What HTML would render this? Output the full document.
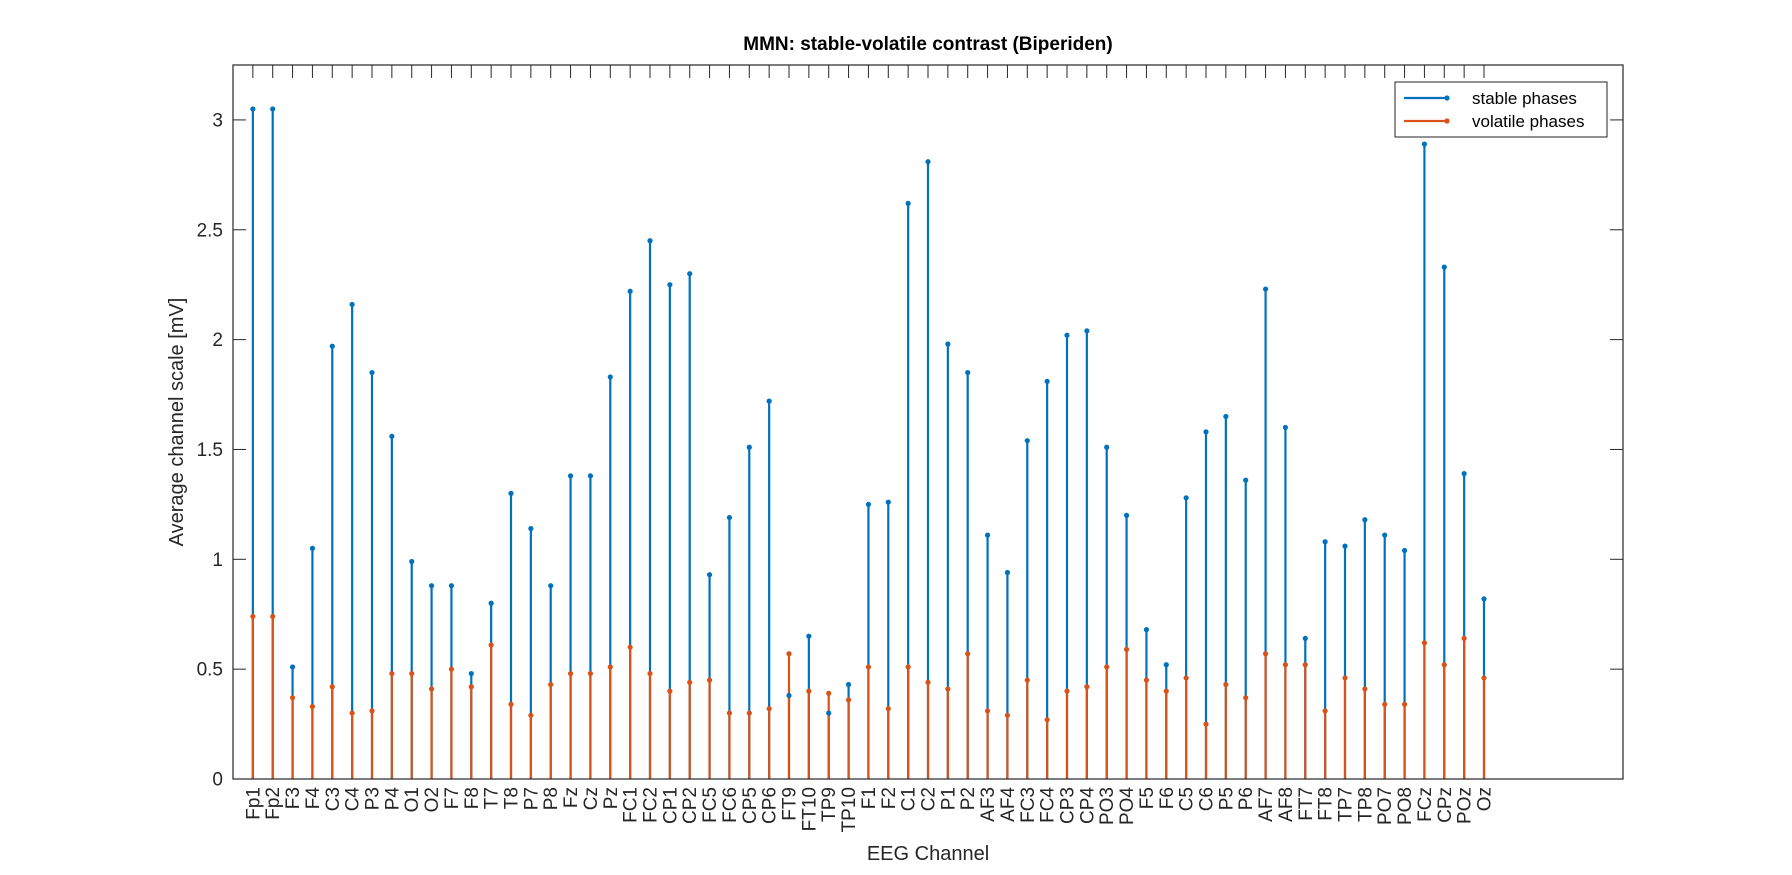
<!DOCTYPE html>
<html><head><meta charset="utf-8"><style>
html,body{margin:0;padding:0;background:#fff;}
svg{display:block;font-family:"Liberation Sans",Arial,sans-serif;}
</style></head><body>
<svg id="chart" width="1792" height="875" viewBox="0 0 1792 875" xmlns="http://www.w3.org/2000/svg">
<rect width="1792" height="875" fill="#fff"/>
<g id="plot"></g>
</svg>
<script>
const channels=["Fp1","Fp2","F3","F4","C3","C4","P3","P4","O1","O2","F7","F8","T7","T8","P7","P8","Fz","Cz","Pz","FC1","FC2","CP1","CP2","FC5","FC6","CP5","CP6","FT9","FT10","TP9","TP10","F1","F2","C1","C2","P1","P2","AF3","AF4","FC3","FC4","CP3","CP4","PO3","PO4","F5","F6","C5","C6","P5","P6","AF7","AF8","FT7","FT8","TP7","TP8","PO7","PO8","FCz","CPz","POz","Oz"];
const stableValues=[3.05,3.05,0.51,1.05,1.97,2.16,1.85,1.56,0.99,0.88,0.88,0.48,0.80,1.30,1.14,0.88,1.38,1.38,1.83,2.22,2.45,2.25,2.30,0.93,1.19,1.51,1.72,0.38,0.65,0.30,0.43,1.25,1.26,2.62,2.81,1.98,1.85,1.11,0.94,1.54,1.81,2.02,2.04,1.51,1.20,0.68,0.52,1.28,1.58,1.65,1.36,2.23,1.60,0.64,1.08,1.06,1.18,1.11,1.04,2.89,2.33,1.39,0.82];
const volatileValues=[0.74,0.74,0.37,0.33,0.42,0.30,0.31,0.48,0.48,0.41,0.50,0.42,0.61,0.34,0.29,0.43,0.48,0.48,0.51,0.60,0.48,0.40,0.44,0.45,0.30,0.30,0.32,0.57,0.40,0.39,0.36,0.51,0.32,0.51,0.44,0.41,0.57,0.31,0.29,0.45,0.27,0.40,0.42,0.51,0.59,0.45,0.40,0.46,0.25,0.43,0.37,0.57,0.52,0.52,0.31,0.46,0.41,0.34,0.34,0.62,0.52,0.64,0.46];
const yTicks=[0,0.5,1,1.5,2,2.5,3];
const yTickLabels=["0","0.5","1","1.5","2","2.5","3"];

const L=233,R=1623,T=65,B=779,XMAX=70,YMAX=3.25;
const xs=i=>L+(i+1)*(R-L)/XMAX;
const ys=v=>B-v*(B-T)/YMAX;
const NS="http://www.w3.org/2000/svg";
const g=document.getElementById('plot');
function mk(tag,attrs,parent){const e=document.createElementNS(NS,tag);for(const k in attrs)e.setAttribute(k,attrs[k]);(parent||g).appendChild(e);return e;}

// ticks
channels.forEach((c,i)=>{
  const x=xs(i);
  let t=mk('line',{x1:x,x2:x,y1:T,y2:T+13,stroke:'#262626','stroke-width':1});
  
  
  let tb=mk('line',{x1:x,x2:x,y1:B,y2:B-13,stroke:'#262626','stroke-width':1});
  
  
  let lb=mk('text',{x:0,y:0,transform:`translate(${x+6.5},${B+8}) rotate(-90)`,'text-anchor':'end','font-size':19,fill:'#262626'});
  lb.textContent=c;
  
  
});
yTicks.forEach((v,i)=>{
  const y=ys(v);
  let a=mk('line',{x1:L,x2:L+13,y1:y,y2:y,stroke:'#262626','stroke-width':1});
  
  
  let b=mk('line',{x1:R,x2:R-13,y1:y,y2:y,stroke:'#262626','stroke-width':1});
  
  
  let t=mk('text',{x:L-10,y:y+6.5,'text-anchor':'end','font-size':19,fill:'#262626'});
  t.textContent=yTickLabels[i];
  
  
});

// stems
function series(vals,color,name){
  vals.forEach((v,i)=>{
    const x=xs(i);
    let s=mk('line',{x1:x,x2:x,y1:B,y2:ys(v),stroke:color,'stroke-width':2.2});
    
    
  });
}
function markers(vals,color,name){
  vals.forEach((v,i)=>{
    let m=mk('circle',{cx:xs(i),cy:ys(v),r:2.6,fill:color});
    
    
  });
}
series(stableValues,'#0072BD','stable');
series(volatileValues,'#D95319','volatile');
markers(stableValues,'#0072BD','stable');
markers(volatileValues,'#D95319','volatile');

// box
let box=mk('rect',{x:L,y:T,width:R-L,height:B-T,fill:'none',stroke:'#262626','stroke-width':1.2});



// title & labels
let ti=mk('text',{x:(L+R)/2,y:50,'text-anchor':'middle','font-size':19,'font-weight':'bold',fill:'#000'});
ti.textContent='MMN: stable-volatile contrast (Biperiden)';


let yl=mk('text',{x:0,y:0,transform:`translate(183,${(T+B)/2}) rotate(-90)`,'text-anchor':'middle','font-size':20,fill:'#262626'});
yl.textContent='Average channel scale [mV]';


let xl=mk('text',{x:(L+R)/2,y:860,'text-anchor':'middle','font-size':20,fill:'#262626'});
xl.textContent='EEG Channel';



// legend
const lg=mk('g',{});


mk('rect',{x:1395,y:82,width:212,height:55,fill:'#fff',stroke:'#262626','stroke-width':1},lg);
[['stable phases','#0072BD',98],['volatile phases','#D95319',121]].forEach(([t,c,y])=>{
  const e=mk('g',{},lg);
  
  
  mk('line',{x1:1404,x2:1447,y1:y,y2:y,stroke:c,'stroke-width':2.2},e);
  mk('circle',{cx:1447,cy:y,r:2.6,fill:c},e);
  const tx=mk('text',{x:1472,y:y+6,'font-size':17,fill:'#000'},e);
  tx.textContent=t;
});
</script>
</body></html>
